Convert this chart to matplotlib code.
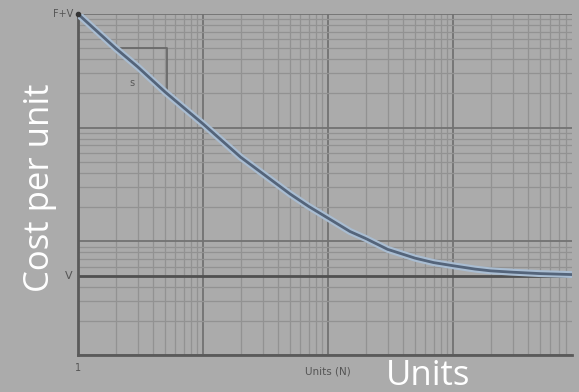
import numpy as np
import matplotlib.pyplot as plt

# cost per unit against cumulative units (log-log)
units = [1, 2, 3, 5, 10, 20, 30, 50, 70, 100, 150, 200, 300, 500, 700,
         1000, 1500, 2000, 3000, 5000, 9000]
cost = [1000, 500, 343, 205, 108, 55, 39.5, 26, 20.3, 16, 12.2, 10.6, 8.5,
        7.1, 6.5, 6.1, 5.7, 5.5, 5.35, 5.2, 5.1]
variable_cost = 5

# slope triangle corners
tri_x = [2.09, 5.15, 5.15]
tri_y = [505, 505, 211]

bg = '#ababab'
fig = plt.figure(figsize=(5.79, 3.92), dpi=100, facecolor=bg)
ax = fig.add_axes([78 / 579, 37 / 392, 494 / 579, 341 / 392])
ax.set_facecolor(bg)
ax.set_xscale('log')
ax.set_yscale('log')
ax.set_xlim(1, 8950)
ax.set_ylim(1, 1000)

# graph-paper grid
ax.grid(which='major', color='#727272', linewidth=1.3)
ax.grid(which='minor', color='#929292', linewidth=0.9)
ax.set_axisbelow(True)
ax.tick_params(which='both', length=0, labelbottom=False, labelleft=False)
for side in ['top', 'right']:
    ax.spines[side].set_visible(False)
for side in ['left', 'bottom']:
    ax.spines[side].set_color('#5a5a5a')
    ax.spines[side].set_linewidth(2)

# variable cost level
ax.axhline(variable_cost, color='#505050', linewidth=2)

# slope triangle
ax.plot(tri_x, tri_y, color='#6a6a6a', linewidth=1.3)
ax.text(2.7, 248, 's', fontsize=7, color='#5a5a5a', ha='center', va='center')

# cost curve with light halo
ax.plot(units, cost, color='#a9bdd2', linewidth=5, solid_capstyle='round', zorder=3)
ax.plot(units, cost, color='#54647a', linewidth=2, zorder=4)
ax.plot([1], [1000], 'o', color='#333333', markersize=3, zorder=5, clip_on=False)

ax.text(0.91, 1000, 'F+V', fontsize=7, color='#555555', ha='right', va='center')
ax.text(0.9, variable_cost, 'V', fontsize=8, color='#555555', ha='right', va='center')
ax.text(1, 0.85, '1', fontsize=7, color='#555555', ha='center', va='top')
ax.text(100, 0.72, 'Units (N)', fontsize=7.5, color='#555555', ha='center', va='center')

# large overlay labels
fig.text(428 / 579, 1 - 376 / 392, 'Units', fontsize=25, color='white',
         family='Open Sans', ha='center', va='center')
fig.text(40 / 579, 1 - 188 / 392, 'Cost per unit', fontsize=25, color='white',
         family='Open Sans', ha='center', va='center', rotation=90)

fig.savefig('out.png', dpi=100, facecolor=bg)
